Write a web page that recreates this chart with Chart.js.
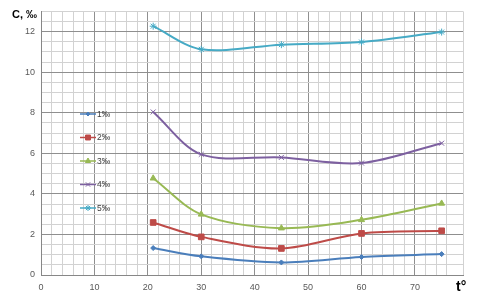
<!DOCTYPE html>
<html><head><meta charset="utf-8">
<script src="https://cdn.jsdelivr.net/npm/chart.js@4"></script>
<style>html,body{margin:0;padding:0;background:#fff}#wrap{position:relative;width:489px;height:308px}</style>
</head><body><div id="wrap"><canvas id="c" width="489" height="308"></canvas></div>
<script>
const temperatures = [21, 30, 45, 60, 75];
const series1 = [1.33, 0.92, 0.62, 0.89, 1.03];
const series2 = [2.59, 1.88, 1.31, 2.05, 2.18];
const series3 = [4.77, 2.99, 2.31, 2.72, 3.53];
const series4 = [8.04, 5.95, 5.80, 5.52, 6.50];
const series5 = [12.27, 11.13, 11.36, 11.49, 11.98];
const seriesLabels = ['1‰', '2‰', '3‰', '4‰', '5‰'];
const xTickLabels = [0, 10, 20, 30, 40, 50, 60, 70];
const yTickLabels = [0, 2, 4, 6, 8, 10, 12];
const yTitle = 'C, ‰';
const xTitle = 't°';

const colors = ['#4A7EBB', '#BE4B48', '#98B954', '#7D60A0', '#46AAC5'];
const styles = ['rectRot', 'rect', 'triangle', 'crossRot', 'star'];
const radii = [2.5, 4, 3.5, 3.5, 3.5];
const legendRadii = [2, 3.5, 3, 3, 3];
const allSeries = [series1, series2, series3, series4, series5];

const datasets = allSeries.map((s, i) => ({
  label: seriesLabels[i],
  data: s.map((v, j) => ({x: temperatures[j], y: v})),
  borderColor: colors[i],
  backgroundColor: colors[i],
  borderWidth: 2,
  pointStyle: styles[i],
  pointRadius: radii[i],
  pointBorderWidth: 1,
  tension: 0.32,
  fill: false
}));

const overlay = {
  id: 'overlay',
  afterDraw(chart) {
    const ctx = chart.ctx;
    ctx.save();
    ctx.fillStyle = '#000';
    ctx.font = 'bold 11px "Liberation Sans", Arial, sans-serif';
    ctx.textAlign = 'left';
    ctx.textBaseline = 'middle';
    ctx.fillText(yTitle, 12, 15);
    ctx.font = 'bold 14px "Liberation Sans", Arial, sans-serif';
    ctx.fillText(xTitle, 456, 287);
    const lx0 = 80, lx1 = 96, ly0 = 114, dy = 23.5;
    chart.data.datasets.forEach((ds, i) => {
      const y = ly0 + i * dy;
      ctx.strokeStyle = ds.borderColor;
      ctx.fillStyle = ds.borderColor;
      ctx.lineWidth = 1.5;
      ctx.beginPath(); ctx.moveTo(lx0, y); ctx.lineTo(lx1, y); ctx.stroke();
      ctx.lineWidth = 1;
      Chart.helpers.drawPoint(ctx, {pointStyle: ds.pointStyle, rotation: 0, radius: legendRadii[i], borderWidth: 1}, (lx0 + lx1) / 2, y);
      ctx.fillStyle = '#404040';
      ctx.font = '8.5px "Liberation Sans", Arial, sans-serif';
      ctx.textAlign = 'left';
      ctx.fillText(ds.label, lx1 + 1, y + 0.5);
    });
    ctx.restore();
  }
};

new Chart(document.getElementById('c'), {
  type: 'line',
  data: {datasets},
  options: {
    responsive: false,
    devicePixelRatio: 1,
    animation: false,
    layout: {padding: {top: 7, right: 26, left: 0, bottom: 0}},
    plugins: {legend: {display: false}, tooltip: {enabled: false}},
    scales: {
      x: {
        type: 'linear', min: 0, max: 79,
        afterFit: s => { s.height = 33; },
        border: {color: '#878787'},
        grid: {drawTicks: false, color: c => (c.tick && c.tick.value % 10 === 0) ? '#8f8f8f' : '#d2d2d2'},
        ticks: {stepSize: 2, autoSkip: false, maxRotation: 0, padding: 7, color: '#595959',
          font: {size: 9, family: '"Liberation Sans", Arial, sans-serif'},
          callback: v => xTickLabels.includes(v) ? String(v) : ''}
      },
      y: {
        type: 'linear', min: 0, max: 13,
        afterFit: s => { s.width = 41; },
        border: {color: '#878787'},
        grid: {drawTicks: false, color: c => (c.tick && c.tick.value % 2 === 0) ? '#8f8f8f' : '#d2d2d2'},
        ticks: {stepSize: 0.5, autoSkip: false, padding: 6, color: '#595959',
          font: {size: 9, family: '"Liberation Sans", Arial, sans-serif'},
          callback: v => yTickLabels.includes(v) ? String(v) : ''}
      }
    }
  },
  plugins: [overlay]
});
</script></body></html>
